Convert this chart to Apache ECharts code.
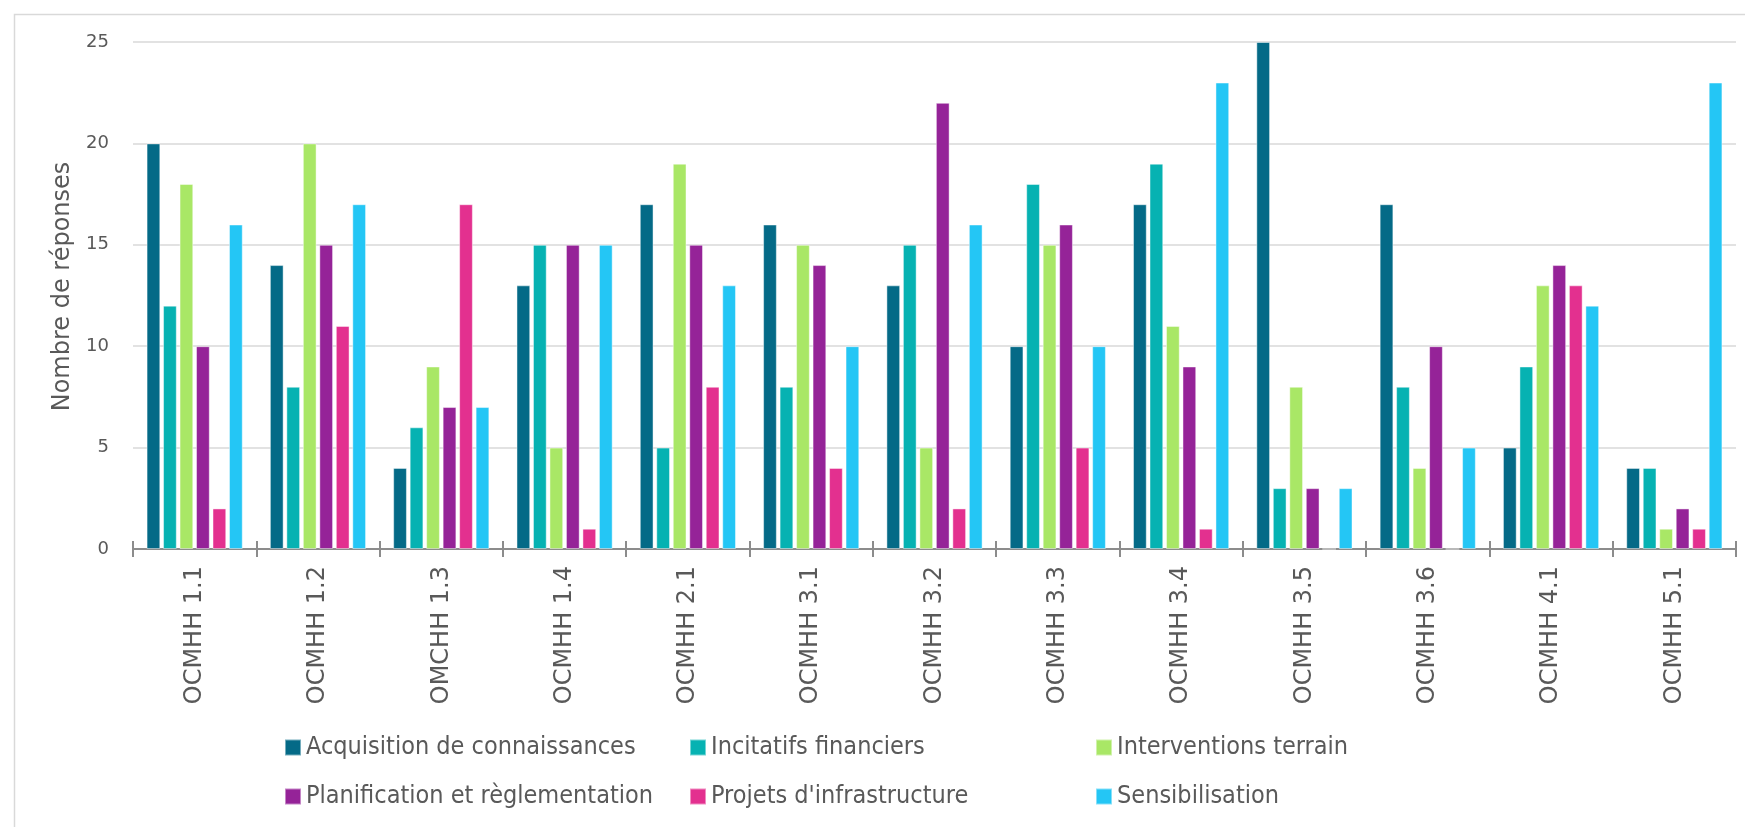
<!DOCTYPE html>
<html>
<head>
<meta charset="utf-8">
<script src="https://cdn.jsdelivr.net/npm/echarts@6/dist/echarts.min.js"></script>
<style>
html,body{margin:0;padding:0;background:#fff;}
#chart{width:1745px;height:827px;}
</style>
</head>
<body>
<div id="chart"></div>
<script>
const categories = ['OCMHH 1.1','OCMHH 1.2','OMCHH 1.3','OCMHH 1.4','OCMHH 2.1','OCMHH 3.1','OCMHH 3.2','OCMHH 3.3','OCMHH 3.4','OCMHH 3.5','OCMHH 3.6','OCMHH 4.1','OCMHH 5.1'];
const seriesNames = ['Acquisition de connaissances','Incitatifs financiers','Interventions terrain','Planification et règlementation',"Projets d'infrastructure",'Sensibilisation'];
const acquisition = [20,14,4,13,17,16,13,10,17,25,17,5,4];
const incitatifs = [12,8,6,15,5,8,15,18,19,3,8,9,4];
const interventions = [18,20,9,5,19,15,5,15,11,8,4,13,1];
const planification = [10,15,7,15,15,14,22,16,9,3,10,14,2];
const projets = [2,11,17,1,8,4,2,5,1,0,0,13,1];
const sensibilisation = [16,17,7,15,13,10,16,10,23,3,5,12,23];
const yTicks = [0,5,10,15,20,25];

const colors = ['#046A87','#06B2B2','#A9E766','#952398','#E3308F','#24C6F5'];
const values = [acquisition,incitatifs,interventions,planification,projets,sensibilisation];

const textColor = '#595959';
const legendFont = "'DejaVu Sans Condensed', 'DejaVu Sans', sans-serif";
const legendPos = [
  [284,735],[689,735],[1095,735],
  [284,784],[689,784],[1095,784]
];

const chart = echarts.init(document.getElementById('chart'), null, {renderer:'canvas'});
const option = {
  animation:false,
  backgroundColor:'#fff',
  graphic:[{
    type:'rect', left:12, top:12, z:-10, silent:true,
    shape:{x:0,y:0,width:1800,height:900},
    style:{fill:'none', stroke:'#D9D9D9', lineWidth:1.5}
  }],
  grid:{left:133, right:9, top:42, bottom:278, containLabel:false},
  legend: seriesNames.map((n,i)=>({
    data:[n], left:legendPos[i][0], top:legendPos[i][1], padding:0,
    itemWidth:16, itemHeight:16, icon:'rect', selectedMode:false,
    textStyle:{color:textColor, fontSize:25, lineHeight:16, fontFamily:legendFont}
  })),
  xAxis:[{
    type:'category', data:categories, position:'bottom',
    axisLine:{show:true, lineStyle:{color:'#8C8C8C', width:2}},
    axisTick:{show:true, length:8, lineStyle:{color:'#8C8C8C', width:2}},
    axisLabel:{rotate:90, margin:17, color:textColor, fontSize:24, fontFamily:'DejaVu Sans'},
    splitLine:{show:false}
  },{
    type:'category', data:categories, position:'bottom', offset:0,
    axisLine:{show:false},
    axisTick:{show:true, inside:true, length:8, lineStyle:{color:'#8C8C8C', width:2}},
    axisLabel:{show:false}
  }],
  yAxis:{
    type:'value', min:yTicks[0], max:yTicks[yTicks.length-1], interval:5,
    name:'Nombre de réponses', nameLocation:'middle', nameGap:58, nameRotate:90,
    nameTextStyle:{color:textColor, fontSize:24, fontFamily:'DejaVu Sans', padding:[0,0,0,18]},
    axisLine:{show:false}, axisTick:{show:false},
    axisLabel:{color:textColor, fontSize:18, margin:24, fontFamily:'DejaVu Sans'},
    splitLine:{lineStyle:{color:'#D9D9D9', width:1.5}}
  },
  series: seriesNames.map((n,i)=>({
    name:n, type:'bar', xAxisIndex:0, data:values[i],
    barCategoryGap:'22%', barGap:'20%',
    itemStyle:{color:colors[i], borderColor:'rgba(255,255,255,0.45)', borderWidth:1}
  }))
};
chart.setOption(option);
</script>
</body>
</html>
